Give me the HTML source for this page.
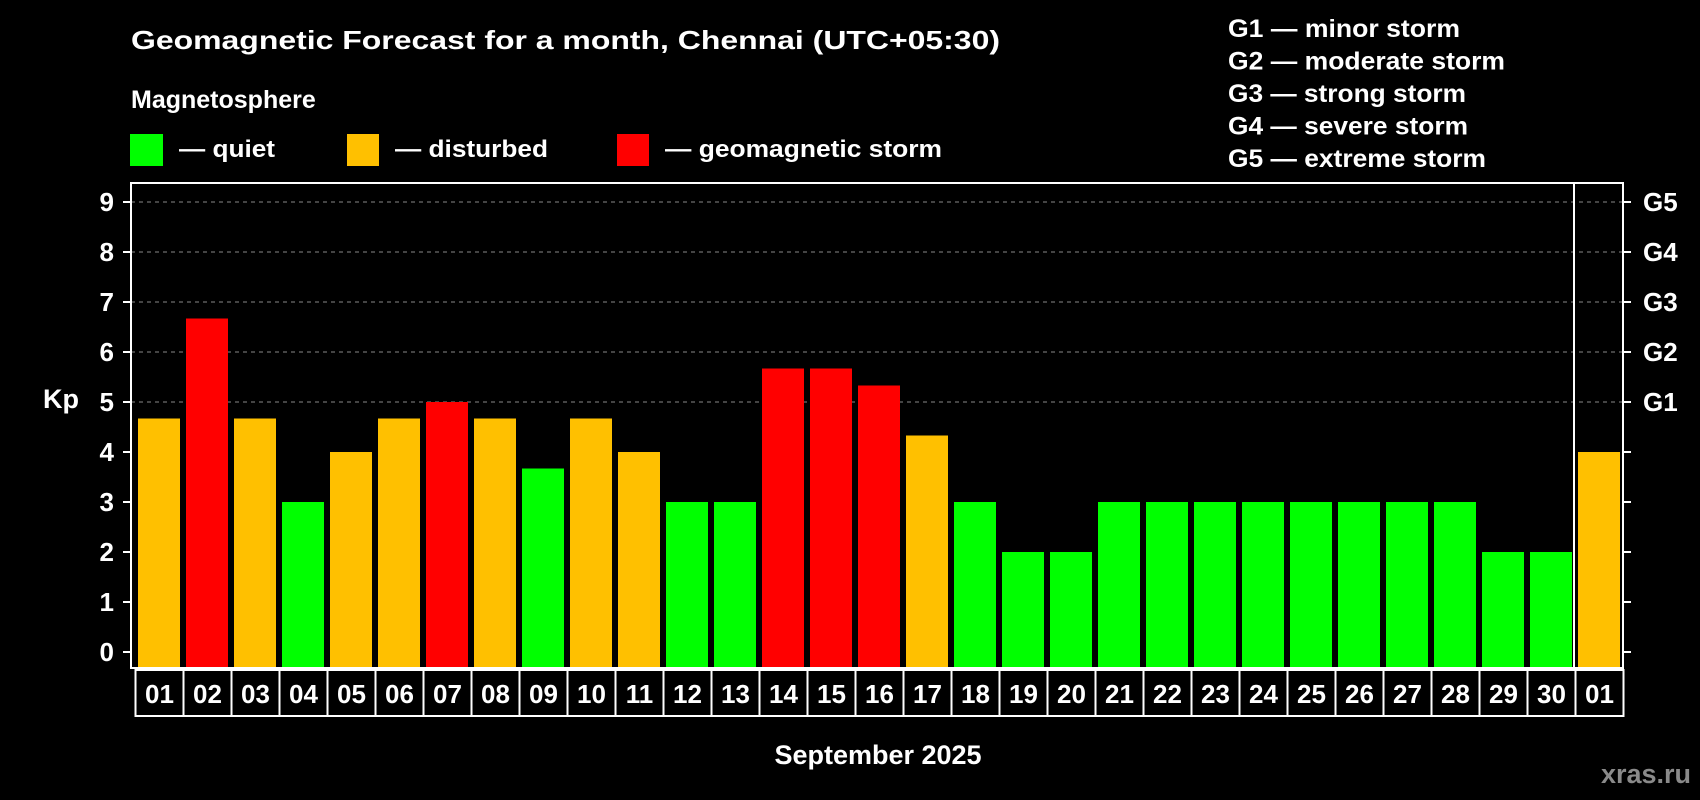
<!DOCTYPE html>
<html><head><meta charset="utf-8"><style>
html,body{margin:0;padding:0;background:#000;}
svg{display:block;font-family:"Liberation Sans",Arial,sans-serif;font-weight:bold;}
</style></head><body>
<svg id="chart" width="1700" height="800" viewBox="0 0 1700 800">
<rect width="1700" height="800" fill="#000"/>
<text x="131" y="49" fill="#fff" font-size="26" textLength="869" lengthAdjust="spacingAndGlyphs">Geomagnetic Forecast for a month, Chennai (UTC+05:30)</text>
<text x="131" y="108" fill="#fff" font-size="25">Magnetosphere</text>
<g><rect x="130" y="134" width="33" height="32" fill="#00ff00"/><text x="179" y="157" fill="#fff" font-size="24" textLength="96" lengthAdjust="spacingAndGlyphs">— quiet</text></g>
<g><rect x="347" y="134" width="32" height="32" fill="#ffc000"/><text x="395" y="157" fill="#fff" font-size="24" textLength="153" lengthAdjust="spacingAndGlyphs">— disturbed</text></g>
<g><rect x="617" y="134" width="32" height="32" fill="#ff0000"/><text x="665" y="157" fill="#fff" font-size="24" textLength="277" lengthAdjust="spacingAndGlyphs">— geomagnetic storm</text></g>
<g fill="#fff" font-size="25">
<text x="1228" y="37" textLength="232" lengthAdjust="spacingAndGlyphs">G1 — minor storm</text>
<text x="1228" y="69.5" textLength="277" lengthAdjust="spacingAndGlyphs">G2 — moderate storm</text>
<text x="1228" y="102" textLength="238" lengthAdjust="spacingAndGlyphs">G3 — strong storm</text>
<text x="1228" y="134.5" textLength="240" lengthAdjust="spacingAndGlyphs">G4 — severe storm</text>
<text x="1228" y="167" textLength="258" lengthAdjust="spacingAndGlyphs">G5 — extreme storm</text>
</g>
<text x="43" y="408" fill="#fff" font-size="27">Kp</text>
<text x="878" y="764" fill="#fff" font-size="27" text-anchor="middle">September 2025</text>
<text x="1691" y="783" fill="#8a8a8a" font-size="27" text-anchor="end">xras.ru</text>
<g id="grid"></g><g id="bars"></g><g id="axes"></g><g id="xlabels"></g>
</svg>
<script>
const categories=["01","02","03","04","05","06","07","08","09","10","11","12","13","14","15","16","17","18","19","20","21","22","23","24","25","26","27","28","29","30","01"];
const kpValues=[4.67,6.67,4.67,3,4,4.67,5,4.67,3.67,4.67,4,3,3,5.67,5.67,5.33,4.33,3,2,2,3,3,3,3,3,3,3,3,2,2,4];
const yTicks=[0,1,2,3,4,5,6,7,8,9];
const gLabels=["G1","G2","G3","G4","G5"];
const NS="http://www.w3.org/2000/svg";
const L=131,R=1623,T=183,B=668,SEP=1574;
const y=v=>652-v*50;
const x0=138,step=48,bw=42;
const xs=i=>x0+i*step;
function mk(tag,attrs,parent){const e=document.createElementNS(NS,tag);for(const k in attrs)e.setAttribute(k,attrs[k]);parent.appendChild(e);return e;}
const grid=document.getElementById('grid'),bars=document.getElementById('bars'),axes=document.getElementById('axes'),xl=document.getElementById('xlabels');
yTicks.forEach(t=>{
  if(t>=5){const g=mk('line',{x1:L,x2:R,y1:y(t),y2:y(t),stroke:'#888','stroke-width':1,'stroke-dasharray':'4,4'},grid);
    
    }
  const tk=mk('line',{x1:L-8,x2:L,y1:y(t),y2:y(t),stroke:'#fff','stroke-width':2},axes);
  
  
  const tr=mk('line',{x1:R,x2:R+8,y1:y(t),y2:y(t),stroke:'#fff','stroke-width':2},axes);
  
  
  const lb=mk('text',{x:L-17,y:y(t)+9,fill:'#fff','font-size':26,'text-anchor':'end'},axes);lb.textContent=t;
  
  
});
gLabels.forEach((g,i)=>{const t=mk('text',{x:R+20,y:y(5+i)+9,fill:'#fff','font-size':26},axes);t.textContent=g;
  
  });
kpValues.forEach((v,i)=>{
  const c=v>=5?'#ff0000':(v>=4?'#ffc000':'#00ff00');
  const b=mk('rect',{x:xs(i),y:y(v),width:bw,height:B-y(v),fill:c},bars);
  
  
});
const fr=mk('rect',{x:L,y:T,width:R-L,height:B-T,fill:'none',stroke:'#fff','stroke-width':2},axes);


const sp=mk('line',{x1:SEP,x2:SEP,y1:T,y2:B,stroke:'#fff','stroke-width':2},axes);


categories.forEach((c,i)=>{
  const bx=135.5+i*step;
  const r=mk('rect',{x:bx,y:670,width:step,height:46,fill:'none',stroke:'#fff','stroke-width':2},xl);
  
  
  const t=mk('text',{x:bx+step/2,y:703,fill:'#fff','font-size':26,'text-anchor':'middle'},xl);t.textContent=c;
  
  
});
</script>
</body></html>
